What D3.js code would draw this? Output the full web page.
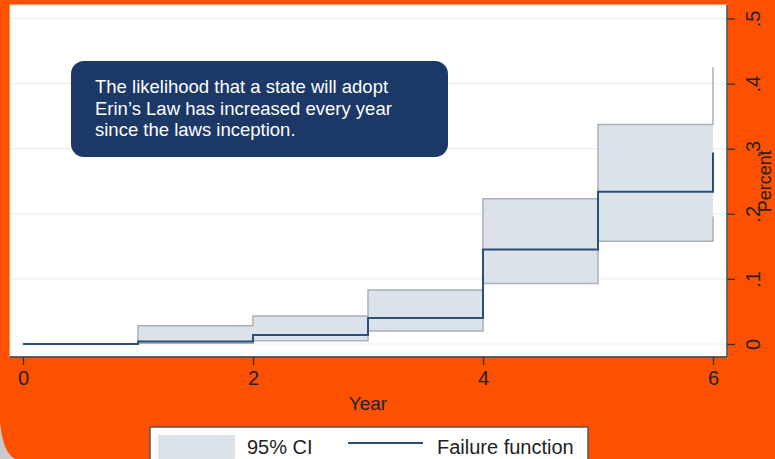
<!DOCTYPE html>
<html>
<head>
<meta charset="utf-8">
<script src="https://cdn.jsdelivr.net/npm/d3@7"></script>
<style>
  html, body { margin: 0; padding: 0; background: #fd5000; }
  svg { display: block; font-family: "Liberation Sans", Arial, sans-serif; }
</style>
</head>
<body>
<svg id="chart" width="775" height="459"></svg>
<script>
// Kaplan-Meier style failure estimate, step after each year
const years = [0, 1, 2, 3, 4, 5, 6];
const failure = [0, 0.004, 0.014, 0.040, 0.145, 0.234, 0.294];
const ciUpper = [0, 0.028, 0.043, 0.083, 0.223, 0.337, 0.425];
const ciLower = [0, 0.001, 0.005, 0.020, 0.093, 0.158, 0.196];

const xTicks = [0, 2, 4, 6];
const yTicks = [0, 0.1, 0.2, 0.3, 0.4, 0.5];
const yTickLabels = ["0", ".1", ".2", ".3", ".4", ".5"];
const legendLabels = ["95% CI", "Failure function"];
const noteLines = [
  "The likelihood that a state will adopt",
  "Erin\u2019s Law has increased every year",
  "since the laws inception."
];

const svg = d3.select("#chart");
const orange = "#fd5000";
const bandFill = "#dce2e9";
const bandLine = "#a7b0ba";
const lineColor = "#2b4f77";

const x = d3.scaleLinear().domain([0, 6]).range([23, 713]);
const y = d3.scaleLinear().domain([0, 0.5]).range([344, 18.5]);

// page corner curl in bottom-left
svg.append("rect").attr("width", 775).attr("height", 459).attr("fill", orange);
svg.append("path")
  .attr("d", "M0,422 Q3,453 15,459 L0,459 Z")
  .attr("fill", "#c9c9c9");

// plot region
svg.append("rect")
  .attr("x", 10).attr("y", 5)
  .attr("width", 717).attr("height", 352)
  .attr("fill", "#fff")
  .attr("stroke", "#e6e9ea");

// gridlines
svg.append("g").selectAll("line")
  .data(yTicks)
  .join("line")
  .attr("x1", 10).attr("x2", 727)
  .attr("y1", d => y(d)).attr("y2", d => y(d))
  .attr("stroke", "#e9eef0")
  .attr("stroke-width", 1.2);

const rows = years.map((t, i) => ({ t, f: failure[i], lo: ciLower[i], hi: ciUpper[i] }));

const area = d3.area()
  .curve(d3.curveStepAfter)
  .x(d => x(d.t))
  .y0(d => y(d.lo))
  .y1(d => y(d.hi));

svg.append("path")
  .datum(rows)
  .attr("d", area)
  .attr("fill", bandFill);

const stepLine = acc => d3.line().curve(d3.curveStepAfter).x(d => x(d.t)).y(d => y(acc(d)));

svg.append("path").datum(rows).attr("d", stepLine(d => d.hi))
  .attr("fill", "none").attr("stroke", bandLine).attr("stroke-width", 1.5);
svg.append("path").datum(rows).attr("d", stepLine(d => d.lo))
  .attr("fill", "none").attr("stroke", bandLine).attr("stroke-width", 1.5);
svg.append("path").datum(rows).attr("d", stepLine(d => d.f))
  .attr("fill", "none").attr("stroke", lineColor).attr("stroke-width", 2);

// x axis (bottom)
const xAxis = svg.append("g").attr("transform", "translate(0,357)")
  .call(d3.axisBottom(x).tickValues(xTicks).tickFormat(d3.format("d")).tickSize(8).tickPadding(6));
xAxis.select(".domain").attr("d", "M10,0H727").attr("stroke", "#333").attr("stroke-width", 1.3);
xAxis.selectAll(".tick line").attr("stroke", "#333").attr("stroke-width", 1.3);
xAxis.selectAll(".tick text")
  .attr("font-size", 20)
  .attr("font-family", "Liberation Sans, Arial, sans-serif")
  .attr("fill", "#222");

svg.append("text")
  .attr("x", 368).attr("y", 410)
  .attr("text-anchor", "middle")
  .attr("font-size", 19)
  .attr("fill", "#222")
  .text("Year");

// y axis (right), rotated labels
const yAxis = svg.append("g").attr("transform", "translate(727,0)")
  .call(d3.axisRight(y).tickValues(yTicks).tickSize(8).tickFormat((d, i) => yTickLabels[i]));
yAxis.select(".domain").attr("d", "M0,5V357").attr("stroke", "#333").attr("stroke-width", 1.3);
yAxis.selectAll(".tick line").attr("stroke", "#333").attr("stroke-width", 1.3);
yAxis.selectAll(".tick text")
  .attr("x", null).attr("dy", null)
  .attr("transform", "translate(33,0) rotate(-90)")
  .attr("text-anchor", "middle")
  .attr("font-size", 20)
  .attr("font-family", "Liberation Sans, Arial, sans-serif")
  .attr("fill", "#222");

svg.append("text")
  .attr("transform", `translate(771,${y(0.25)}) rotate(-90)`)
  .attr("text-anchor", "middle")
  .attr("font-size", 18)
  .attr("fill", "#222")
  .text("Percent");

// note box
const note = svg.append("g");
note.append("rect")
  .attr("x", 71).attr("y", 61)
  .attr("width", 377).attr("height", 96)
  .attr("rx", 13)
  .attr("fill", "#1b3866");
note.selectAll("text")
  .data(noteLines)
  .join("text")
  .attr("x", 95)
  .attr("y", (d, i) => 93 + i * 21.5)
  .attr("font-size", 18.5)
  .attr("fill", "#fff")
  .text(d => d);

// legend
const legend = svg.append("g");
legend.append("rect")
  .attr("x", 150).attr("y", 427)
  .attr("width", 438).attr("height", 45)
  .attr("fill", "#fff")
  .attr("stroke", "#555")
  .attr("stroke-width", 1.5);
legend.append("rect")
  .attr("x", 158).attr("y", 435)
  .attr("width", 77).attr("height", 24)
  .attr("fill", bandFill);
legend.append("line")
  .attr("x1", 348).attr("x2", 423)
  .attr("y1", 443).attr("y2", 443)
  .attr("stroke", lineColor).attr("stroke-width", 2);
legend.selectAll("text.lab")
  .data(legendLabels)
  .join("text")
  .attr("class", "lab")
  .attr("x", (d, i) => [247, 437][i])
  .attr("y", 454)
  .attr("font-size", 20)
  .attr("fill", "#222")
  .text(d => d);
</script>
</body>
</html>
